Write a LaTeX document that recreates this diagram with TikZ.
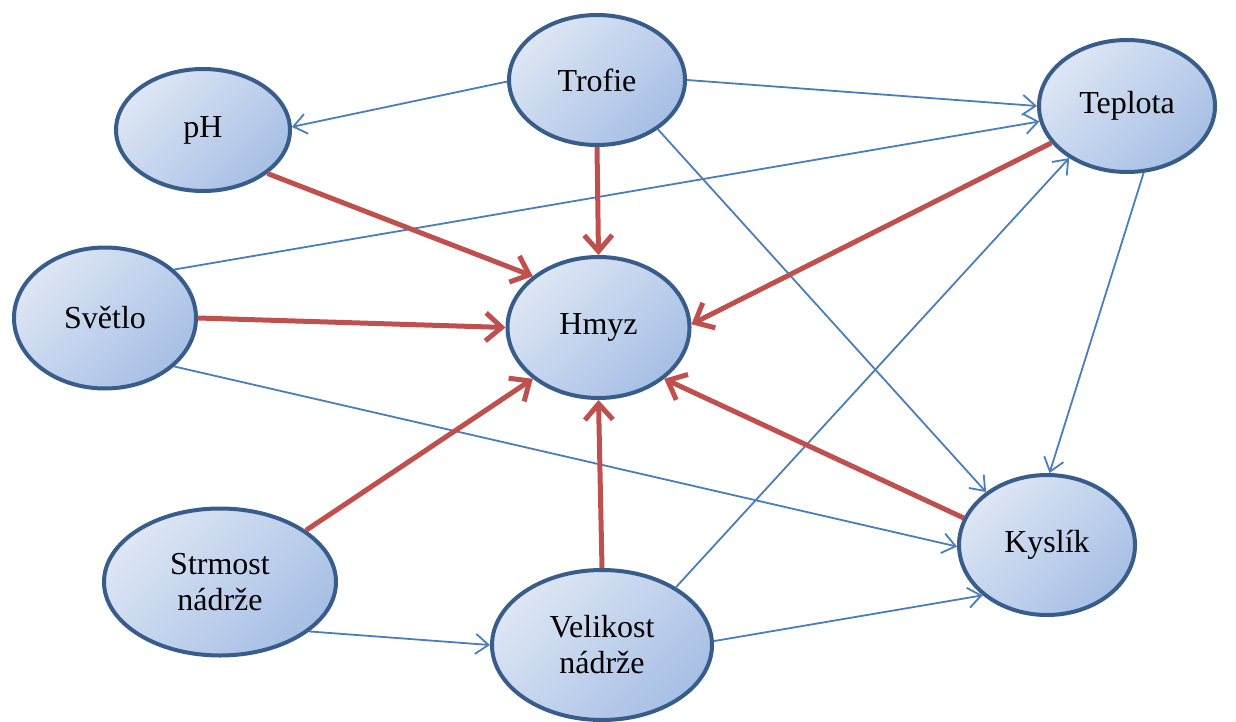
\documentclass[tikz,border=0pt]{standalone}
\usepackage{fontspec}
\setmainfont{Liberation Serif}
\usetikzlibrary{shapes.geometric,arrows.meta}
\definecolor{bord}{HTML}{385D8A}
\definecolor{fillA}{HTML}{DDE6F4}
\definecolor{fillB}{HTML}{A7BFE5}
\definecolor{redar}{HTML}{C0504D}
\definecolor{bluear}{HTML}{4A7EBB}
\begin{document}
\begin{tikzpicture}[x=1pt,y=-1pt,
  ell/.style={ellipse, draw=bord, line width=4pt, shading=axis, top color=fillA, bottom color=fillB, shading angle=45, inner sep=0pt, font=\fontsize{32}{36}\selectfont, align=center},
  weak/.style={draw=bluear, line width=1.8pt, -{Straight Barb[length=13pt,width=20pt]}},
  strong/.style={draw=redar, line width=5pt, -{Straight Barb[length=16pt,width=28pt]}}]
\useasboundingbox (0,0) rectangle (1236,722);
\node[ell, minimum width=174pt, minimum height=122pt] (ph) at (203,130) {pH};
\node[ell, minimum width=176pt, minimum height=130pt] (trofie) at (597,80) {Trofie};
\node[ell, minimum width=176pt, minimum height=132pt] (teplota) at (1127,106) {Teplota};
\node[ell, minimum width=182pt, minimum height=141pt] (svetlo) at (105,318) {Světlo};
\node[ell, minimum width=182pt, minimum height=141pt] (hmyz) at (598.5,327.5) {Hmyz};
\node[ell, minimum width=232pt, minimum height=147pt] (strmost) at (220,582) {Strmost\\nádrže};
\node[ell, minimum width=220pt, minimum height=150pt] (velikost) at (602,645) {Velikost\\nádrže};
\node[ell, minimum width=176pt, minimum height=140pt] (kyslik) at (1047,545) {Kyslík};

\draw[weak] (trofie.181) -- (ph.2);
\draw[weak] (trofie.0) -- (teplota.180);
\draw[weak] (trofie.-39) -- (kyslik.139);
\draw[weak] (svetlo.35) -- (teplota.190);
\draw[weak] (svetlo.-35) -- (kyslik.181);
\draw[weak] (teplota.-76) -- (kyslik.88);
\draw[weak] (velikost.38) -- (teplota.222);
\draw[weak] (velikost.2) -- (kyslik.218);
\draw[weak] (strmost.-29) -- (velikost.180);

\draw[strong] (ph.-34) -- (hmyz.142);
\draw[strong] (trofie.-90) -- (hmyz.90);
\draw[strong] (teplota.206) -- (hmyz.2);
\draw[strong] (svetlo.0) -- (hmyz.180);
\draw[strong] (strmost.31) -- (hmyz.218);
\draw[strong] (velikost.90) -- (hmyz.270);
\draw[strong] (kyslik.162) -- (hmyz.-38);
\end{tikzpicture}
\end{document}
